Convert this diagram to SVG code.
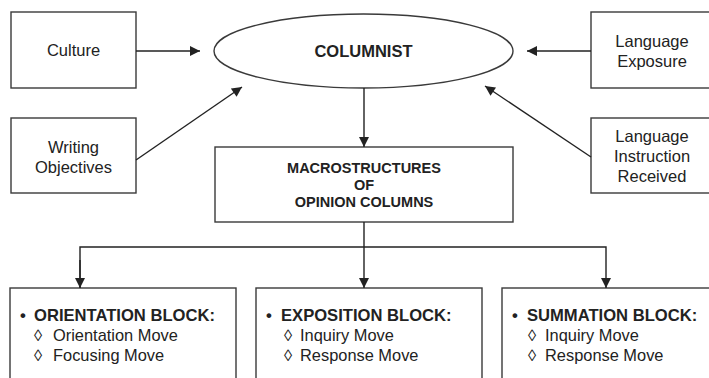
<svg xmlns="http://www.w3.org/2000/svg" width="709" height="378" viewBox="0 0 709 378">
<defs>
<marker id="ah" viewBox="0 0 10 10" refX="10" refY="5" markerWidth="11" markerHeight="10" markerUnits="userSpaceOnUse" orient="auto">
<path d="M0,0 L10,5 L0,10 z" fill="#222"/>
</marker>
<style>
.box{fill:#fff;stroke:#3a3a3a;stroke-width:1.4}
.t{font-family:"Liberation Sans",Arial,sans-serif;font-size:16.5px;fill:#222;text-anchor:middle}
.b{font-weight:bold}
.m{font-size:14.5px}
.l{text-anchor:start;font-size:16.4px}
.h{font-size:16.6px}
.c{stroke:#222;stroke-width:1.4;fill:none}
</style>
</defs>
<rect width="709" height="378" fill="#fff"/>
<g id="culture"><rect class="box" x="11" y="12" width="125" height="76"/><text class="t" x="73.5" y="56">Culture</text></g>
<g id="writing"><rect class="box" x="11" y="118" width="125" height="75"/><text class="t" x="73.5" y="153">Writing</text><text class="t" x="73.5" y="173">Objectives</text></g>
<g id="exposure"><rect class="box" x="591" y="12" width="125" height="76"/><text class="t" x="652" y="47">Language</text><text class="t" x="652" y="67">Exposure</text></g>
<g id="instruction"><rect class="box" x="591" y="118" width="125" height="75"/><text class="t" x="652" y="142">Language</text><text class="t" x="652" y="162">Instruction</text><text class="t" x="652" y="182">Received</text></g>
<g id="columnist"><ellipse class="box" cx="363.5" cy="51" rx="149.5" ry="37"/><text class="t b" x="363.5" y="57">COLUMNIST</text></g>
<g id="macro"><rect class="box" x="215" y="147" width="298" height="75"/><text class="t b m" x="364" y="173">MACROSTRUCTURES</text><text class="t b m" x="364" y="190">OF</text><text class="t b m" x="364" y="207">OPINION COLUMNS</text></g>
<g id="orientation"><rect class="box" x="10" y="288" width="226" height="100"/>
<text class="t l b h" x="20" y="321">•</text><text class="t l b h" x="34" y="321">ORIENTATION BLOCK:</text>
<text class="t l" x="34" y="341">◊</text><text class="t l" x="53" y="341">Orientation Move</text>
<text class="t l" x="34" y="361">◊</text><text class="t l" x="53" y="361">Focusing Move</text></g>
<g id="exposition"><rect class="box" x="256" y="288" width="226" height="100"/>
<text class="t l b h" x="266" y="321">•</text><text class="t l b h" x="281" y="321">EXPOSITION BLOCK:</text>
<text class="t l" x="284" y="341">◊</text><text class="t l" x="300" y="341">Inquiry Move</text>
<text class="t l" x="284" y="361">◊</text><text class="t l" x="300" y="361">Response Move</text></g>
<g id="summation"><rect class="box" x="502" y="288" width="226" height="100"/>
<text class="t l b h" x="512" y="321">•</text><text class="t l b h" x="527" y="321">SUMMATION BLOCK:</text>
<text class="t l" x="528" y="341">◊</text><text class="t l" x="545" y="341">Inquiry Move</text>
<text class="t l" x="528" y="361">◊</text><text class="t l" x="545" y="361">Response Move</text></g>
<g id="connectors">
<line class="c" x1="136" y1="51" x2="200" y2="51" marker-end="url(#ah)"/>
<line class="c" x1="136" y1="160" x2="242" y2="87" marker-end="url(#ah)"/>
<line class="c" x1="591" y1="51" x2="527" y2="51" marker-end="url(#ah)"/>
<line class="c" x1="591" y1="157" x2="485" y2="86" marker-end="url(#ah)"/>
<line class="c" x1="364" y1="88" x2="364" y2="147" marker-end="url(#ah)"/>
<polyline class="c" points="364,222 364,247"/>
<polyline class="c" points="80,288 80,247 606,247 606,288" marker-end="url(#ah)"/>
<line class="c" x1="80" y1="260" x2="80" y2="288" marker-end="url(#ah)"/>
<line class="c" x1="364" y1="247" x2="364" y2="288" marker-end="url(#ah)"/>
</g>
</svg>
